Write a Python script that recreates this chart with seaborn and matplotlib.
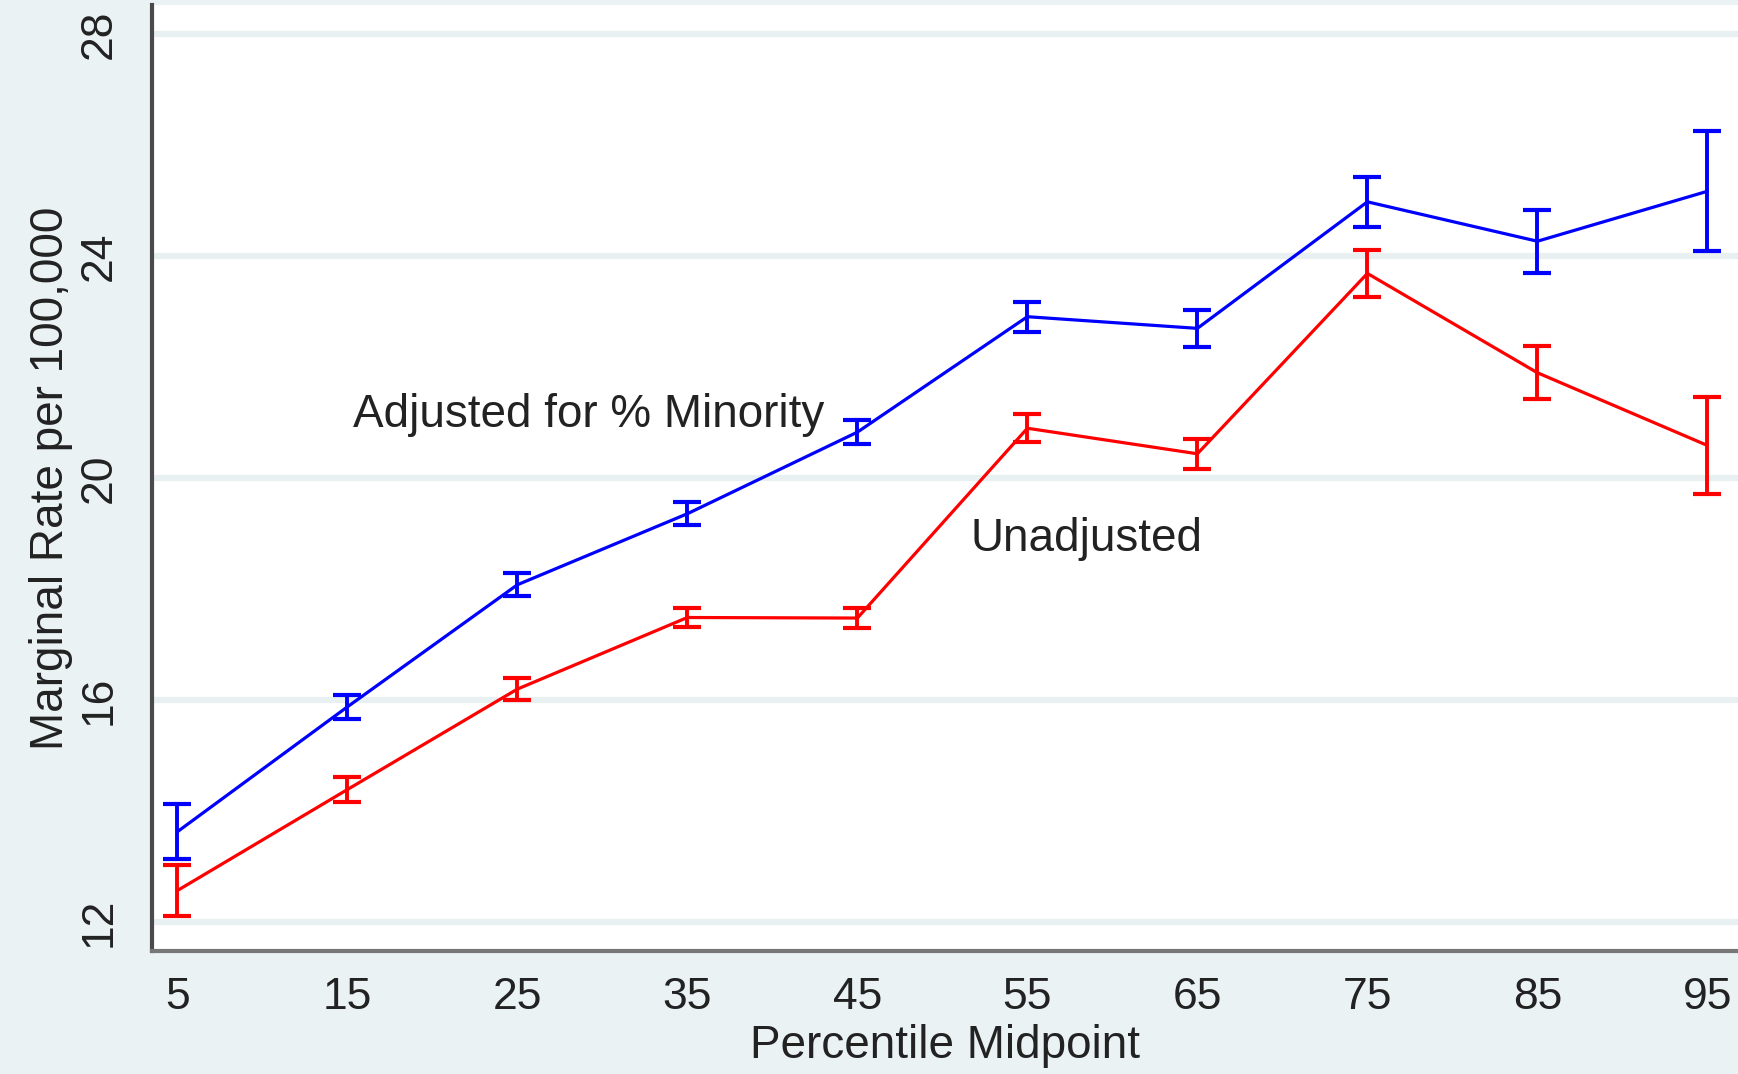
import numpy as np
import pandas as pd
import matplotlib
matplotlib.use("Agg")
import matplotlib.pyplot as plt
import seaborn as sns

# values
percentile = [5, 15, 25, 35, 45, 55, 65, 75, 85, 95]
adjusted = [13.63, 15.88, 18.08, 19.36, 20.83, 22.91, 22.70, 24.98, 24.27, 25.17]
adjusted_err = [0.50, 0.22, 0.21, 0.21, 0.21, 0.27, 0.33, 0.45, 0.57, 1.08]
unadjusted = [12.57, 14.39, 16.20, 17.49, 17.48, 20.90, 20.44, 23.69, 21.90, 20.59]
unadjusted_err = [0.46, 0.22, 0.20, 0.18, 0.18, 0.25, 0.27, 0.42, 0.48, 0.87]
y_ticks = [12, 16, 20, 24, 28]

bg = "#EAF2F3"
sns.set_style("white")
plt.rcParams["font.family"] = ["Liberation Sans", "DejaVu Sans"]

df = pd.DataFrame({
    "pct": percentile * 2,
    "rate": adjusted + unadjusted,
    "series": ["Adjusted"] * 10 + ["Unadjusted"] * 10,
})

fig = plt.figure(figsize=(17.38, 10.74), dpi=100, facecolor=bg)
ax = fig.add_axes([0.0874, 0.1145, 0.9126, 0.8805])
ax.set_facecolor("white")

for y in y_ticks:
    ax.axhline(y, color="#E8F0F2", lw=4.5, zorder=0)

sns.lineplot(data=df, x="pct", y="rate", hue="series",
             palette={"Adjusted": "#0000FF", "Unadjusted": "#FF0000"},
             lw=2.3, legend=False, ax=ax, zorder=3)

ax.errorbar(percentile, adjusted, yerr=adjusted_err, fmt="none",
            ecolor="#0000FF", elinewidth=2.8, capsize=10, capthick=3, zorder=4)
ax.errorbar(percentile, unadjusted, yerr=unadjusted_err, fmt="none",
            ecolor="#FF0000", elinewidth=2.8, capsize=10, capthick=3, zorder=4)

ax.text(15.3, 21.14, "Adjusted for % Minority", fontsize=33, color="#222222",
        ha="left", va="center")
ax.text(51.65, 18.9, "Unadjusted", fontsize=33, color="#222222",
        ha="left", va="center")

ax.set_xlim(3.5, 96.8)
ax.set_ylim(11.48, 28.52)
ax.set_xticks(percentile)
ax.set_yticks(y_ticks)
ax.set_xlabel("Percentile Midpoint", fontsize=33, color="#222222", labelpad=4)
ax.set_ylabel("Marginal Rate per 100,000", fontsize=33, color="#222222", labelpad=4)

ax.tick_params(axis="both", direction="out", length=13, width=3,
               color="#444444", labelsize=32, labelcolor="#222222")
ax.tick_params(axis="x", pad=6)
ax.tick_params(axis="y", labelrotation=90, pad=10)
for lab in ax.get_yticklabels():
    lab.set_va("center")

for side in ["top", "right"]:
    ax.spines[side].set_visible(False)
ax.spines["left"].set_color("#4a4a4a")
ax.spines["left"].set_linewidth(3)
ax.spines["bottom"].set_color("#777777")
ax.spines["bottom"].set_linewidth(3)

fig.savefig("out.png", dpi=100, facecolor=bg)
